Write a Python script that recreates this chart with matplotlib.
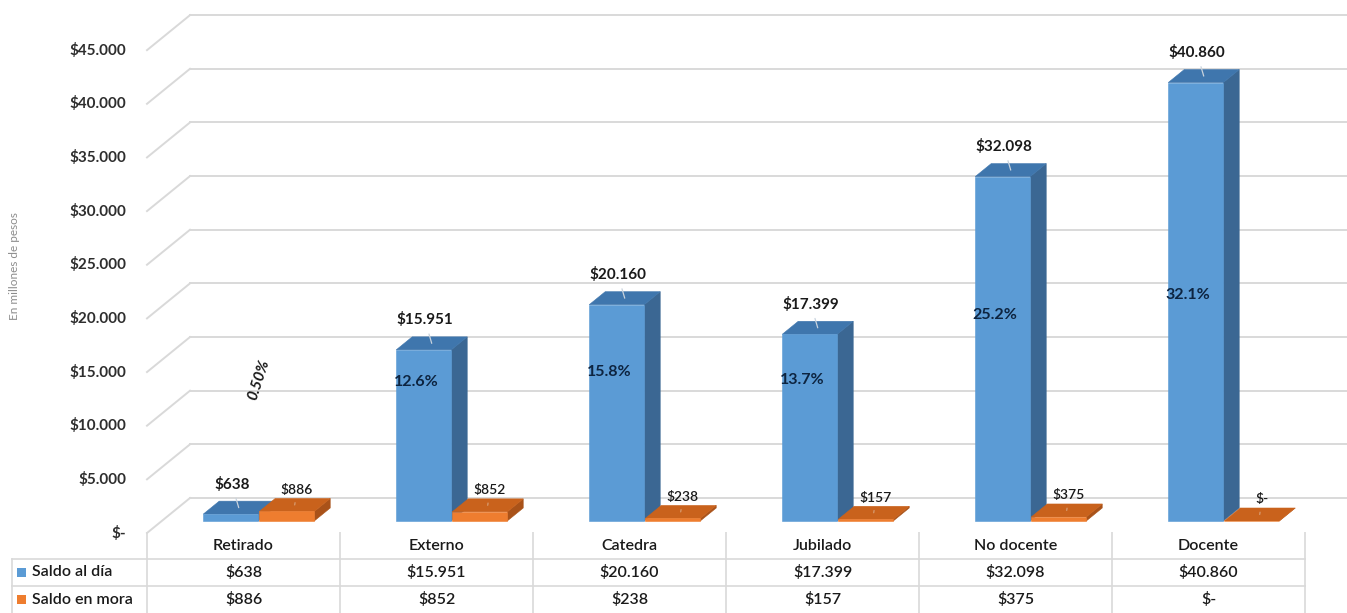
import matplotlib
matplotlib.use("Agg")
import matplotlib.pyplot as plt
from matplotlib.patches import Polygon, Rectangle

plt.rcParams['font.family'] = ['Lato', 'DejaVu Sans']

# datos (millones de pesos)
categorias = ["Retirado", "Externo", "Catedra", "Jubilado", "No docente", "Docente"]
saldo_al_dia = [638, 15951, 20160, 17399, 32098, 40860]
saldo_en_mora = [886, 852, 238, 157, 375, 0]
participacion = ["0.50%", "12.6%", "15.8%", "13.7%", "25.2%", "32.1%"]
series = ["Saldo al día", "Saldo en mora"]
ticks = list(range(0, 45001, 5000))

# altura (en unidades del eje) donde va cada etiqueta de participación
pct_altura = [14300, 14100, 15000, 14300, 20300, 22200]

W, H = 1347, 613
PX_CAT = 193.0      # pixeles por categoria
PX_V = 0.01073      # pixeles por unidad de valor
X_ORIG = 243.5      # pixel x del centro de la primera categoria
Y_ORIG = 533.0      # pixel y del cero en el borde frontal del piso

AZUL = dict(front="#5b9bd5", top="#3f76ad", side="#3b6793")
NARANJA = dict(front="#ee7d2f", top="#c9621c", side="#a95219")
GRIS = "#d9d9d9"
TEXTO = "#1a1a1a"


def dx(px):
    return px / PX_CAT


def dv(px):
    return px / PX_V


DX, DV = dx(43), dv(35)        # profundidad total del piso
Z0, ZB = 12 / 35, 13 / 35      # posicion y profundidad de las barras
BW = dx(55)                    # ancho de barra


def proj(x, v, z):
    return (x + z * DX, v + z * DV)


def fmt(v):
    if v == 0:
        return "$-"
    return "$" + f"{v:,.0f}".replace(",", ".")


def barra(ax, x0, h, colores):
    x1 = x0 + BW
    z1 = Z0 + ZB
    side = [proj(x1, 0, Z0), proj(x1, 0, z1), proj(x1, h, z1), proj(x1, h, Z0)]
    top = [proj(x0, h, Z0), proj(x1, h, Z0), proj(x1, h, z1), proj(x0, h, z1)]
    front = [proj(x0, 0, Z0), proj(x1, 0, Z0), proj(x1, h, Z0), proj(x0, h, Z0)]
    for pts, c in ((side, colores["side"]), (top, colores["top"]), (front, colores["front"])):
        ax.add_patch(Polygon(pts, closed=True, facecolor=c, edgecolor=c, linewidth=0.4, zorder=3))
    # centro de la cara superior, para la linea guia de la etiqueta
    return proj(x0 + BW / 2, h, Z0 + ZB / 2)


fig = plt.figure(figsize=(W / 100, H / 100), dpi=100)
fig.patch.set_facecolor("white")
ax = fig.add_axes([0, 0, 1, 1])
ax.set_xlim(-X_ORIG / PX_CAT, (W - X_ORIG) / PX_CAT)
ax.set_ylim(-(H - Y_ORIG) / PX_V, Y_ORIG / PX_V)
ax.axis("off")

# paredes: lineas de grilla al fondo y diagonales en la pared izquierda
x_pared = -0.5
x_der = (W - X_ORIG) / PX_CAT
for t in ticks:
    a = proj(x_pared, t, 0)
    b = proj(x_pared, t, 1)
    ax.plot([a[0], b[0]], [a[1], b[1]], color=GRIS, lw=1.4, zorder=1)
    ax.plot([b[0], x_der], [b[1], b[1]], color=GRIS, lw=1.4, zorder=1)
    ax.text(x_pared - dx(21), t, fmt(t), ha="right", va="center",
            fontsize=11, fontweight="bold", color="#2e2e2e")

fig.text(15 / W, 1 - 266 / H, "En millones de pesos", rotation=90,
         ha="center", va="center", fontsize=8.5, color="#8c8c8c")

for i in range(len(categorias)):
    tope = barra(ax, i - BW, saldo_al_dia[i], AZUL)
    ax.annotate(fmt(saldo_al_dia[i]), xy=tope, xytext=(-5, 17), textcoords="offset points",
                ha="center", va="center", fontsize=11, fontweight="bold", color=TEXTO,
                arrowprops=dict(arrowstyle="-", color="#c9d3dd", lw=0.9, shrinkA=3, shrinkB=0),
                zorder=5)

    tope = barra(ax, i + dx(1), saldo_en_mora[i], NARANJA)
    ax.annotate(fmt(saldo_en_mora[i]), xy=tope, xytext=(1.5, 11), textcoords="offset points",
                ha="center", va="center", fontsize=10, fontweight="semibold", color=TEXTO,
                arrowprops=dict(arrowstyle="-", color="#d9a27a", lw=0.8, shrinkA=3, shrinkB=0),
                zorder=5)

    # participacion sobre el total
    xb, _ = proj(i - BW, 0, Z0)
    if i == 0:
        ax.text(xb + dx(56), pct_altura[i], participacion[i], rotation=72,
                ha="center", va="center", fontsize=11, fontweight="bold",
                fontstyle="italic", color="#1a1a1a", zorder=6)
    else:
        ax.text(xb + dx(20), pct_altura[i], participacion[i],
                ha="center", va="center", fontsize=11.5, fontweight="bold",
                color="#0d2440", zorder=6)

# tabla de datos debajo del grafico
tab = fig.add_axes([0, 0, 1, (H - 532) / H])
tab.set_xlim(ax.get_xlim())
tab.set_ylim(3, 0)
tab.axis("off")

x_izq = dx(12 - X_ORIG)
for y in (1, 2):
    tab.plot([x_izq, 5.5], [y, y], color=GRIS, lw=1.2)
for k in range(len(categorias) + 1):
    tab.plot([k - 0.5, k - 0.5], [0, 3], color=GRIS, lw=1.2)
tab.plot([x_izq, x_izq], [1, 3], color=GRIS, lw=1.2)

for i, cat in enumerate(categorias):
    tab.text(i, 0.5, cat, ha="center", va="center", fontsize=11.5, fontweight="semibold", color=TEXTO)
    tab.text(i, 1.5, fmt(saldo_al_dia[i]), ha="center", va="center", fontsize=11.5,
             fontweight="semibold", color=TEXTO)
    tab.text(i, 2.5, fmt(saldo_en_mora[i]), ha="center", va="center", fontsize=11.5,
             fontweight="semibold", color=TEXTO)

for fila, (nombre, col) in enumerate(zip(series, (AZUL["front"], NARANJA["front"]))):
    tab.add_patch(Rectangle((dx(17 - X_ORIG), fila + 1.5 - 0.17), dx(9), 0.34,
                            facecolor=col, edgecolor="none"))
    tab.text(dx(32 - X_ORIG), fila + 1.5, nombre, ha="left", va="center",
             fontsize=11.5, fontweight="semibold", color=TEXTO)

fig.savefig("out.png", dpi=100, facecolor="white")
